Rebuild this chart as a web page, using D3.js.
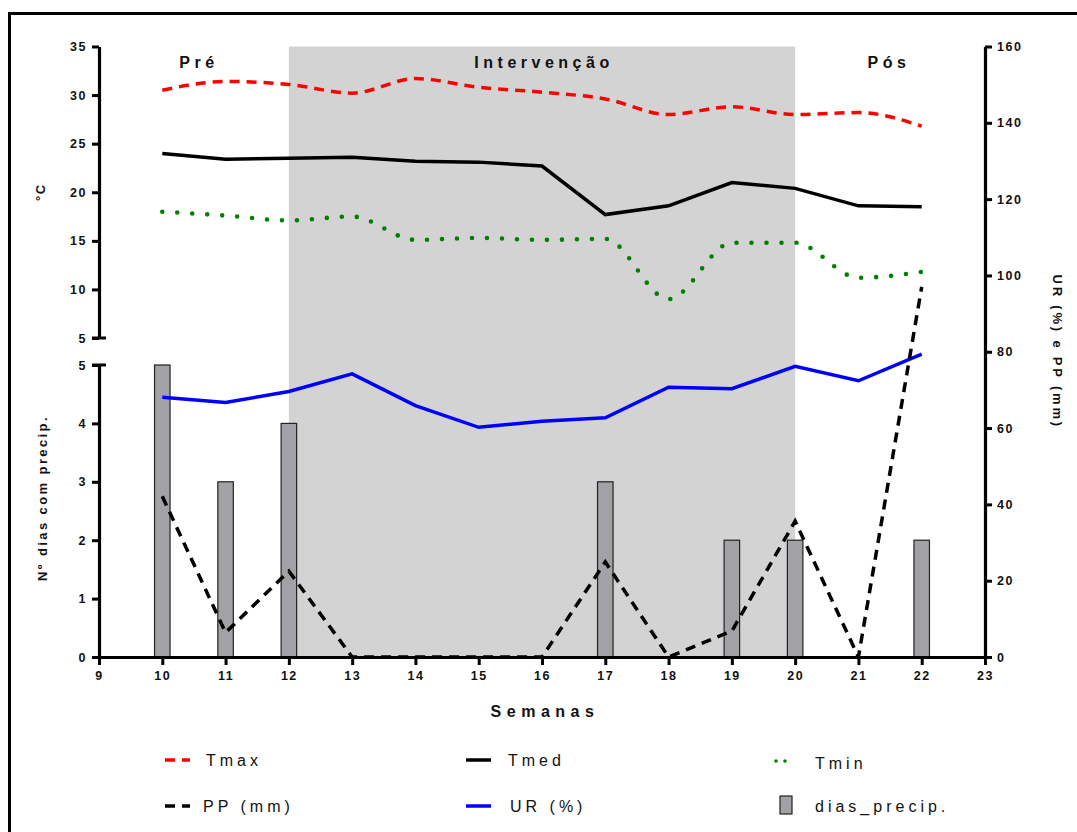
<!DOCTYPE html>
<html>
<head>
<meta charset="utf-8">
<script src="https://cdn.jsdelivr.net/npm/d3@7"></script>
<style>
  html, body { margin: 0; padding: 0; background: #fff; }
  svg { display: block; font-family: "Liberation Sans", Arial, sans-serif; }
</style>
</head>
<body>
<svg id="chart" width="1077" height="832"></svg>
<script>
// Weekly weather series
const weeks = [10, 11, 12, 13, 14, 15, 16, 17, 18, 19, 20, 21, 22];
const tmax = [30.5, 31.4, 31.1, 30.2, 31.7, 30.8, 30.3, 29.6, 28.0, 28.8, 28.0, 28.2, 26.8];
const tmed = [24.0, 23.4, 23.5, 23.6, 23.2, 23.1, 22.7, 17.7, 18.6, 21.0, 20.4, 18.6, 18.5];
const tmin = [18.0, 17.6, 17.1, 17.5, 15.1, 15.3, 15.1, 15.2, 9.0, 14.8, 14.8, 11.2, 11.8];
const ur = [68.1, 66.7, 69.6, 74.2, 65.9, 60.2, 61.8, 62.7, 70.7, 70.3, 76.2, 72.4, 79.4];
const pp = [42.1, 6.4, 22.5, 0, 0, 0, 0, 24.9, 0, 6.8, 35.6, 0, 97.0];
const diasPrecip = [5, 3, 4, 0, 0, 0, 0, 3, 0, 2, 2, 0, 2];

// Axis ticks
const xTicks = [9, 10, 11, 12, 13, 14, 15, 16, 17, 18, 19, 20, 21, 22, 23];
const tempTicks = [5, 10, 15, 20, 25, 30, 35];
const diasTicks = [0, 1, 2, 3, 4, 5];
const rightTicks = [0, 20, 40, 60, 80, 100, 120, 140, 160];

// Period shading and labels
const periods = [
  { label: "Pré", from: 9, to: 12, shaded: false },
  { label: "Intervenção", from: 12, to: 20, shaded: true },
  { label: "Pós", from: 20, to: 23, shaded: false }
];

const legendItems = [
  { key: "tmax", label: "Tmax" },
  { key: "tmed", label: "Tmed" },
  { key: "tmin", label: "Tmin" },
  { key: "pp", label: "PP (mm)" },
  { key: "ur", label: "UR (%)" },
  { key: "bar", label: "dias_precip." }
];

const svg = d3.select("#chart");

const plotLeft = 99, plotRight = 985, plotTop = 46.5, plotBottom = 657;
const topPanelBottom = 338, lowPanelTop = 365;

const x = d3.scaleLinear().domain([9, 23]).range([plotLeft, plotRight]);
const yTemp = d3.scaleLinear().domain([5, 35]).range([topPanelBottom, plotTop]);
const yDias = d3.scaleLinear().domain([0, 5]).range([plotBottom, lowPanelTop]);
const yRight = d3.scaleLinear().domain([0, 160]).range([plotBottom, plotTop]);

// outer frame
svg.append("path")
  .attr("d", `M9.5,840 L9.5,13.5 L1090,13.5`)
  .attr("fill", "none").attr("stroke", "#000").attr("stroke-width", 3);

// shaded intervention period
periods.filter(p => p.shaded).forEach(p => {
  svg.append("rect")
    .attr("x", x(p.from)).attr("y", plotTop)
    .attr("width", x(p.to) - x(p.from)).attr("height", plotBottom - plotTop)
    .attr("fill", "#d3d3d3");
});

// period labels
svg.append("g").selectAll("text").data(periods).join("text")
  .attr("x", d => {
    if (d.label === "Pré") return 199;
    if (d.label === "Pós") return 889;
    return (x(d.from) + x(d.to)) / 2 + 2;
  })
  .attr("y", 68)
  .attr("text-anchor", "middle")
  .attr("font-size", 16).attr("font-weight", "bold")
  .attr("letter-spacing", 4.5)
  .attr("fill", "#111")
  .text(d => d.label);

// bars: number of days with precipitation
const barW = 15.5;
svg.append("g").selectAll("rect").data(weeks.map((w, i) => ({ w, v: diasPrecip[i] })).filter(d => d.v > 0))
  .join("rect")
  .attr("x", d => x(d.w) - barW / 2)
  .attr("y", d => yDias(d.v))
  .attr("width", barW)
  .attr("height", d => yDias(0) - yDias(d.v))
  .attr("fill", "#a2a1a6")
  .attr("stroke", "#222").attr("stroke-width", 1.2);

function series(vals, yScale) {
  return weeks.map((w, i) => [x(w), yScale(vals[i])]);
}

const straight = d3.line();
const smooth = d3.line().curve(d3.curveMonotoneX);

const styles = {
  tmax: { stroke: "#ff0000", width: 3.5, dash: "10 7", cap: "butt" },
  tmed: { stroke: "#000000", width: 3.5, dash: null, cap: "butt" },
  tmin: { stroke: "#008000", width: 4.6, dash: "0 15", cap: "round" },
  pp: { stroke: "#000000", width: 3.5, dash: "10 7", cap: "butt" },
  ur: { stroke: "#0000ff", width: 3.5, dash: null, cap: "butt" }
};

function drawLine(pts, gen, st) {
  svg.append("path")
    .attr("d", gen(pts))
    .attr("fill", "none")
    .attr("stroke", st.stroke)
    .attr("stroke-width", st.width)
    .attr("stroke-linecap", st.cap)
    .attr("stroke-linejoin", "miter")
    .attr("stroke-dasharray", st.dash);
}

drawLine(series(ur, yRight), straight, styles.ur);
drawLine(series(pp, yRight), straight, styles.pp);
drawLine(series(tmax, yTemp), smooth, styles.tmax);
drawLine(series(tmed, yTemp), straight, styles.tmed);
drawLine(series(tmin, yTemp), smooth, styles.tmin);

// axes
function styleAxis(g) {
  g.selectAll(".domain").attr("stroke", "#000").attr("stroke-width", 3.2);
  g.selectAll(".tick line").attr("stroke", "#000").attr("stroke-width", 3);
  g.selectAll(".tick text")
    .attr("font-size", 12.5).attr("font-weight", "bold")
    .attr("letter-spacing", 1.5).attr("fill", "#111");
}

const fmt = d3.format("d");

const xAxis = svg.append("g").attr("transform", `translate(0,${plotBottom})`)
  .call(d3.axisBottom(x).tickValues(xTicks).tickFormat(fmt).tickSize(8).tickSizeOuter(0).tickPadding(6));
styleAxis(xAxis);

const yTempAxis = svg.append("g").attr("transform", `translate(${plotLeft},0)`)
  .call(d3.axisLeft(yTemp).tickValues(tempTicks).tickFormat(fmt).tickSize(7).tickSizeOuter(0).tickPadding(5));
styleAxis(yTempAxis);

const yDiasAxis = svg.append("g").attr("transform", `translate(${plotLeft},0)`)
  .call(d3.axisLeft(yDias).tickValues(diasTicks).tickFormat(fmt).tickSize(7).tickSizeOuter(0).tickPadding(5));
styleAxis(yDiasAxis);

// break caps on the split left axis
[topPanelBottom, lowPanelTop].forEach(yy => {
  svg.append("line")
    .attr("x1", plotLeft - 7).attr("x2", plotLeft + 7)
    .attr("y1", yy).attr("y2", yy)
    .attr("stroke", "#000").attr("stroke-width", 3);
});

const yRightAxis = svg.append("g").attr("transform", `translate(${plotRight},0)`)
  .call(d3.axisRight(yRight).tickValues(rightTicks).tickFormat(fmt).tickSize(7).tickSizeOuter(0).tickPadding(5));
styleAxis(yRightAxis);

// axis titles
svg.append("text")
  .attr("x", (plotLeft + plotRight) / 2 + 3).attr("y", 717)
  .attr("text-anchor", "middle")
  .attr("font-size", 16).attr("font-weight", "bold").attr("letter-spacing", 5.5)
  .attr("fill", "#111")
  .text("Semanas");

svg.append("text")
  .attr("transform", `translate(45,${(yTemp(5) + yTemp(35)) / 2}) rotate(-90)`)
  .attr("text-anchor", "middle")
  .attr("font-size", 13).attr("font-weight", "bold").attr("letter-spacing", 1.5)
  .attr("fill", "#111")
  .text("°C");

svg.append("text")
  .attr("transform", `translate(47,${(yDias(0) + yDias(5)) / 2 - 13}) rotate(-90)`)
  .attr("text-anchor", "middle")
  .attr("font-size", 13).attr("font-weight", "bold").attr("letter-spacing", 2.4)
  .attr("fill", "#111")
  .text("Nº dias com precip.");

svg.append("text")
  .attr("transform", `translate(1053,${(plotTop + plotBottom) / 2}) rotate(90)`)
  .attr("text-anchor", "middle")
  .attr("font-size", 13).attr("font-weight", "bold").attr("letter-spacing", 2.8)
  .attr("fill", "#111")
  .text("UR (%) e PP (mm)");

// legend
const legendPos = [
  { sx: 165, tx: 206, y: 760 },
  { sx: 466, tx: 508, y: 760 },
  { sx: 776, tx: 815, y: 763 },
  { sx: 165, tx: 203, y: 806 },
  { sx: 466, tx: 510, y: 806 },
  { sx: 780, tx: 815, y: 806 }
];

const legend = svg.append("g");
legendItems.forEach((item, i) => {
  const p = legendPos[i];
  const g = legend.append("g");
  if (item.key === "bar") {
    g.append("rect")
      .attr("x", p.sx).attr("y", p.y - 10)
      .attr("width", 12).attr("height", 18)
      .attr("fill", "#a2a1a6").attr("stroke", "#222").attr("stroke-width", 1.2);
  } else if (item.key === "tmin") {
    const st = styles.tmin;
    g.append("path")
      .attr("d", `M${p.sx},${p.y - 2} L${p.sx + 12},${p.y - 2}`)
      .attr("stroke", st.stroke).attr("stroke-width", 3.6)
      .attr("stroke-linecap", "round").attr("stroke-dasharray", "0 9");
  } else {
    const st = styles[item.key];
    g.append("path")
      .attr("d", `M${p.sx},${p.y} L${p.sx + 25},${p.y}`)
      .attr("stroke", st.stroke).attr("stroke-width", 3.5)
      .attr("stroke-dasharray", st.dash ? "10 7" : null);
  }
  g.append("text")
    .attr("x", p.tx).attr("y", p.y + 6)
    .attr("font-size", 16).attr("letter-spacing", 4)
    .attr("fill", "#111")
    .text(item.label);
});
</script>
</body>
</html>
